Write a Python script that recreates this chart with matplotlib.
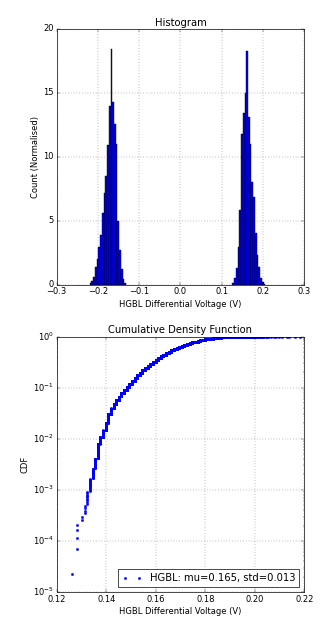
import numpy as np
import matplotlib
matplotlib.use('Agg')
import matplotlib.pyplot as plt

plt.style.use('classic')
plt.rcParams['figure.facecolor'] = 'white'
plt.rcParams['savefig.facecolor'] = 'white'
plt.rcParams['mathtext.fontset'] = 'dejavusans'

# normalised histogram of the differential voltage (both polarities)
bin_width = 0.0042
neg_bin_start = -0.220
neg_heights = [0.1, 0.3, 0.6, 1.4, 2.0, 2.9, 3.9, 5.6, 7.2, 8.5, 10.9, 14.0, 18.4,
               14.3, 12.6, 11.0, 5.0, 2.7, 1.2, 0.45, 0.1]
pos_bin_start = 0.1258
pos_heights = [0.1, 0.5, 1.3, 2.9, 5.8, 11.8, 13.4, 15.0, 18.3,
               13.1, 11.0, 8.0, 6.85, 4.0, 2.3, 1.4, 0.5, 0.2, 0.05]

# positive samples: number of samples on each quantised voltage level
level_start = 0.1260
level_step = 0.00106
level_counts = [1, 0, 8, 0, 4, 8, 18, 33, 41, 64, 170, 118, 166, 269, 440, 360, 390, 430, 395, 475,
                560, 610, 660, 720, 790, 860, 930, 1000, 1060, 1120, 1170, 1220, 1260, 1300, 1330,
                1350, 1370, 1380, 1380, 1370, 1350, 1320, 1290, 1250, 1200, 1150, 1090, 1030, 960, 890,
                880, 830, 780, 720, 660, 590, 520, 450, 380, 320, 260,
                170, 140, 110, 85, 65, 50, 38, 28, 20, 15, 11, 8, 6, 4, 4,
                2, 2, 2, 2, 2, 0, 2, 2, 0, 2, 0, 2]


def main():
    fig, (ax1, ax2) = plt.subplots(2, 1, figsize=(6.56, 12.88), dpi=50)
    fig.subplots_adjust(left=0.1729, right=0.9277, top=0.955, bottom=0.0807, hspace=0.2035)

    # 直方图
    neg_edges = neg_bin_start + bin_width * np.arange(len(neg_heights))
    pos_edges = pos_bin_start + bin_width * np.arange(len(pos_heights))
    ax1.bar(neg_edges, neg_heights, width=bin_width, align='edge',
            color='b', edgecolor='k', linewidth=0.6)
    ax1.bar(pos_edges, pos_heights, width=bin_width, align='edge',
            color='b', edgecolor='k', linewidth=0.6)
    ax1.set_xlim(-0.3, 0.3)
    ax1.set_ylim(0, 20)
    ax1.set_title('Histogram')
    ax1.set_xlabel('HGBL Differential Voltage (V)')
    ax1.set_ylabel('Count (Normalised)')
    ax1.grid(True)

    # 累积分布
    levels = level_start + level_step * np.arange(len(level_counts))
    v = np.repeat(levels, level_counts)
    cdf = np.arange(1, len(v) + 1) / len(v)
    label = 'HGBL: mu=%.3f, std=%.3f' % (v.mean(), v.std())
    ax2.semilogy(v[::2], cdf[::2], 'b.', markersize=7, label=label)
    ax2.set_xlim(0.12, 0.22)
    ax2.set_ylim(1e-5, 1)
    ax2.set_title('Cumulative Density Function')
    ax2.set_xlabel('HGBL Differential Voltage (V)')
    ax2.set_ylabel('CDF')
    ax2.grid(True)
    ax2.legend(loc='lower right')

    fig.savefig('out.png', dpi=50)


if __name__ == "__main__":
    main()
